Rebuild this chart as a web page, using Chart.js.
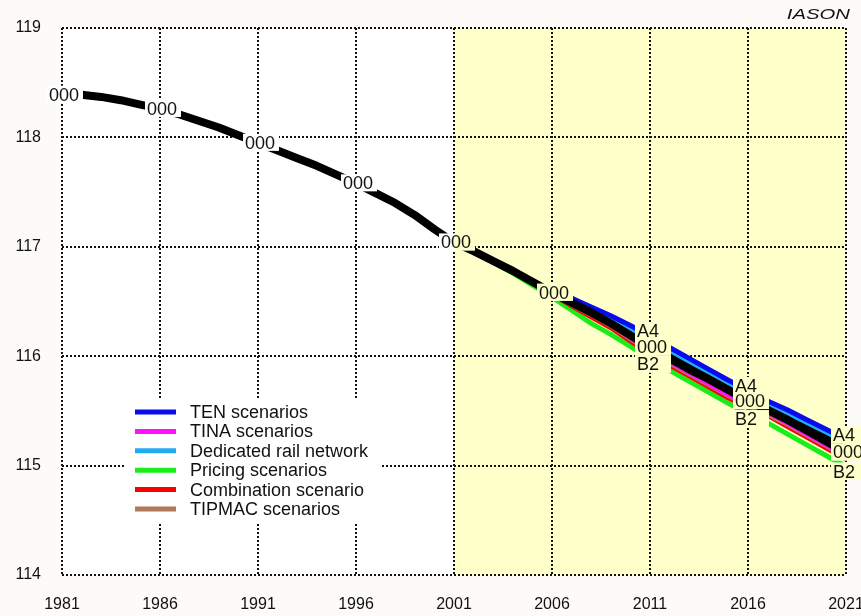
<!DOCTYPE html>
<html>
<head>
<meta charset="utf-8">
<script src="https://cdn.jsdelivr.net/npm/chart.js@4.4.1/dist/chart.umd.min.js"></script>
<style>
  html, body { margin: 0; padding: 0; background: #fcfbf8; }
  #wrap { width: 861px; height: 616px; }
</style>
</head>
<body>
<div id="wrap"><canvas id="chart" width="861" height="616"></canvas></div>
<script>
// Base run (1981-2021)
const years = [1981,1982,1983,1984,1985,1986,1987,1988,1989,1990,1991,1992,1993,1994,1995,1996,1997,1998,1999,2000,
               2001,2002,2003,2004,2005,2006,2007,2008,2009,2010,2011,2012,2013,2014,2015,2016,2017,2018,2019,2020,2021];
const baseRun = [118.39,118.39,118.37,118.34,118.30,118.26,118.21,118.15,118.09,118.02,
                 117.95,117.88,117.81,117.74,117.66,117.58,117.49,117.40,117.29,117.16,
                 117.04,116.96,116.87,116.78,116.68,116.58,116.49,116.40,116.30,116.19,
                 116.08,115.98,115.88,115.79,115.69,115.59,115.51,115.42,115.32,115.22,115.12];

// Scenario runs (2001-2021)
const scenarioYears = [2001,2002,2003,2004,2005,2006,2007,2008,2009,2010,2011,2012,2013,2014,2015,2016,2017,2018,2019,2020,2021];
const tenScenarios = [117.04,116.96,116.87,116.78,116.69,116.59,116.53,116.45,116.37,116.28,116.19,116.08,115.98,115.88,115.78,115.69,115.59,115.51,115.42,115.33,115.24];
const tinaScenarios = [117.04,116.96,116.87,116.78,116.68,116.58,116.48,116.39,116.29,116.17,116.05,115.95,115.85,115.75,115.65,115.56,115.49,115.39,115.29,115.19,115.09];
const dedicatedRail = [117.04,116.96,116.87,116.78,116.69,116.58,116.51,116.42,116.34,116.25,116.16,116.05,115.95,115.85,115.75,115.66,115.56,115.48,115.39,115.30,115.21];
const pricingScenarios = [117.04,116.96,116.86,116.76,116.65,116.54,116.42,116.30,116.20,116.09,115.97,115.87,115.77,115.67,115.57,115.47,115.39,115.29,115.19,115.09,114.99];
const combinationScenario = [117.04,116.96,116.86,116.77,116.67,116.57,116.46,116.36,116.26,116.14,116.02,115.92,115.82,115.72,115.62,115.53,115.46,115.36,115.26,115.16,115.06];
const tipmacScenarios = [117.04,116.96,116.87,116.78,116.68,116.58,116.47,116.38,116.28,116.16,116.04,115.94,115.84,115.74,115.64,115.55,115.47,115.38,115.28,115.18,115.08];
const otherScenarios = [117.04,116.96,116.87,116.78,116.68,116.58,116.52,116.43,116.34,116.24,116.13,116.03,115.93,115.83,115.73,115.64,115.55,115.46,115.37,115.27,115.17];

// Axis ticks
const xTicks = [1981,1986,1991,1996,2001,2006,2011,2016,2021];
const yTicks = [114,115,116,117,118,119];
const forecastStart = 2001;
const forecastEnd = 2021;

// Run labels along the lines
const baseLabelYears = [1981,1986,1991,1996,2001,2006,2011,2016,2021];
const scenarioLabelYears = [2011,2016,2021];

const FONT = "'Liberation Sans', Arial, Helvetica, sans-serif";

function pts(xs, ys) { return xs.map((x, i) => ({ x: x, y: ys[i] })); }

function line(label, xs, ys, color, width, order, inLegend) {
  return {
    label: label, data: pts(xs, ys), borderColor: color, backgroundColor: color,
    borderWidth: width, pointRadius: 0, tension: 0, borderCapStyle: 'butt',
    borderJoinStyle: 'round', order: order, fill: false, inLegend: inLegend
  };
}

// lower order is painted on top
const datasets = [
  line('TEN scenarios', scenarioYears, tenScenarios, '#0a0af0', 5, 1, true),
  line('TINA scenarios', scenarioYears, tinaScenarios, '#ff10ff', 5, 5, true),
  line('Dedicated rail network', scenarioYears, dedicatedRail, '#22aaf2', 4, 2, true),
  line('Pricing scenarios', scenarioYears, pricingScenarios, '#18ee18', 5, 8, true),
  line('Combination scenario', scenarioYears, combinationScenario, '#f80000', 5, 7, true),
  line('TIPMAC scenarios', scenarioYears, tipmacScenarios, '#b07a58', 5, 6, true),
  line('Other scenarios', scenarioYears, otherScenarios, '#000000', 7, 3, false),
  line('Base', years, baseRun, '#000000', 8, 0, false)
];

const labelSets = [
  { text: '000', xs: years, ys: baseRun, at: baseLabelYears, dy: 0 },
  { text: 'A4', xs: scenarioYears, ys: tenScenarios, at: scenarioLabelYears, dy: -4 },
  { text: 'B2', xs: scenarioYears, ys: pricingScenarios, at: scenarioLabelYears, dy: 5 }
];

const PLOT_BG = '#ffffff';
const FORECAST_BG = '#ffffc9';

const backdrop = {
  id: 'backdrop',
  beforeDraw(chart) {
    const { ctx, chartArea: a, scales: { x } } = chart;
    ctx.save();
    ctx.fillStyle = '#fcfbf8';
    ctx.fillRect(0, 0, chart.width, chart.height);
    ctx.fillStyle = PLOT_BG;
    ctx.fillRect(a.left, a.top, a.right - a.left, a.bottom - a.top);
    const x0 = x.getPixelForValue(forecastStart), x1 = x.getPixelForValue(forecastEnd);
    ctx.fillStyle = FORECAST_BG;
    ctx.fillRect(x0, a.top, x1 - x0, a.bottom - a.top);
    ctx.restore();
  }
};

const runLabels = {
  id: 'runLabels',
  afterDatasetsDraw(chart) {
    const { ctx, scales: { x, y } } = chart;
    const split = x.getPixelForValue(forecastStart);
    ctx.save();
    ctx.font = '18px ' + FONT;
    ctx.textBaseline = 'middle';
    ctx.textAlign = 'left';
    labelSets.forEach(set => {
      set.at.forEach(yr => {
        const i = set.xs.indexOf(yr);
        const px = x.getPixelForValue(yr);
        const py = y.getPixelForValue(set.ys[i]) + set.dy;
        const bx = px - 15, bw = 36, by = py - 9, bh = 17;
        ctx.fillStyle = PLOT_BG;
        ctx.fillRect(bx, by, bw, bh);
        if (bx + bw > split) {
          const sx = Math.max(bx, split);
          ctx.fillStyle = FORECAST_BG;
          ctx.fillRect(sx, by, bx + bw - sx, bh);
        }
        ctx.fillStyle = '#111';
        ctx.fillText(set.text, px - 13, py + 1);
      });
    });
    ctx.restore();
  }
};

const boxLegend = {
  id: 'boxLegend',
  afterDraw(chart) {
    const { ctx } = chart;
    const items = chart.data.datasets.filter(d => d.inLegend);
    ctx.save();
    ctx.fillStyle = '#ffffff';
    ctx.fillRect(124, 400, 258, 122);
    ctx.font = '18px ' + FONT;
    ctx.textBaseline = 'middle';
    ctx.textAlign = 'left';
    items.forEach((d, i) => {
      const yy = 412 + i * 19.4;
      ctx.strokeStyle = d.borderColor;
      ctx.lineWidth = 5;
      ctx.lineCap = 'butt';
      ctx.beginPath();
      ctx.moveTo(135, yy);
      ctx.lineTo(176, yy);
      ctx.stroke();
      ctx.fillStyle = '#111';
      ctx.fillText(d.label, 190, yy + 1);
    });
    // credit
    ctx.font = 'italic 14px ' + FONT;
    ctx.textAlign = 'right';
    ctx.translate(850, 15);
    ctx.scale(1.45, 1);
    ctx.fillText('IASON', 0, 0);
    ctx.restore();
  }
};

const gridStyle = { color: '#111', lineWidth: 2, drawTicks: false };
const borderStyle = { display: false, dash: [2, 2], color: '#111', width: 2 };

new Chart(document.getElementById('chart'), {
  type: 'line',
  data: { datasets: datasets },
  options: {
    responsive: false,
    animation: false,
    devicePixelRatio: 1,
    layout: { padding: { top: 28, right: 15, left: 0, bottom: 0 } },
    plugins: { legend: { display: false }, tooltip: { enabled: false } },
    scales: {
      x: {
        type: 'linear', min: 1981, max: 2021,
        afterBuildTicks(s) { s.ticks = xTicks.map(v => ({ value: v })); },
        afterFit(s) { s.height = 41; s.paddingLeft = 0; s.paddingRight = 0; },
        grid: gridStyle,
        border: borderStyle,
        ticks: { padding: 20, color: '#111', font: { family: FONT, size: 16 }, callback: v => String(v), maxRotation: 0, autoSkip: false }
      },
      y: {
        type: 'linear', min: 114, max: 119,
        afterBuildTicks(s) { s.ticks = yTicks.map(v => ({ value: v })); },
        afterFit(s) { s.width = 62; s.paddingTop = 0; s.paddingBottom = 0; },
        grid: gridStyle,
        border: borderStyle,
        ticks: { padding: 21, color: '#111', font: { family: FONT, size: 16 }, callback: v => String(v) }
      }
    }
  },
  plugins: [backdrop, runLabels, boxLegend]
});
</script>
</body>
</html>
